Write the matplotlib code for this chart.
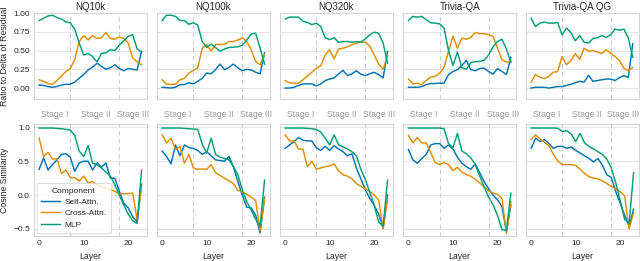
import matplotlib
matplotlib.use("Agg")
import matplotlib.pyplot as plt
import numpy as np

titles = ["NQ10k", "NQ100k", "NQ320k", "Trivia-QA", "Trivia-QA QG"]
layers = list(range(24))
series_names = ["Self-Attn.", "Cross-Attn.", "MLP"]
stage_labels = ["Stage I", "Stage II", "Stage III"]
stage_pos = [3.5, 12.7, 21.2]
stage_bounds = [7, 18]

# Ratio to Delta of Residual (top row)
ratio_self = [
    [0.04, 0.035, 0.02, 0.01, 0.02, 0.04, 0.05, 0.05, 0.08, 0.13, 0.18, 0.24, 0.28, 0.33, 0.29, 0.25, 0.27, 0.31, 0.26, 0.23, 0.26, 0.25, 0.24, 0.49],
    [0.01, 0.005, 0.0, 0.01, 0.045, 0.045, 0.07, 0.055, 0.09, 0.13, 0.20, 0.19, 0.245, 0.32, 0.245, 0.275, 0.32, 0.27, 0.23, 0.25, 0.24, 0.21, 0.19, 0.47],
    [0.0, 0.0, 0.01, 0.035, 0.055, 0.055, 0.055, 0.03, 0.055, 0.10, 0.12, 0.135, 0.19, 0.235, 0.165, 0.19, 0.23, 0.185, 0.165, 0.19, 0.21, 0.18, 0.135, 0.49],
    [0.01, 0.01, 0.01, 0.02, 0.045, 0.06, 0.06, 0.065, 0.065, 0.18, 0.22, 0.245, 0.30, 0.37, 0.245, 0.23, 0.26, 0.265, 0.22, 0.185, 0.26, 0.22, 0.18, 0.41],
    [0.0, 0.01, 0.01, 0.01, 0.0, 0.01, 0.02, 0.02, 0.035, 0.05, 0.07, 0.09, 0.08, 0.17, 0.09, 0.10, 0.11, 0.12, 0.12, 0.10, 0.14, 0.165, 0.14, 0.59],
]
ratio_cross = [
    [0.11, 0.09, 0.06, 0.05, 0.10, 0.16, 0.22, 0.26, 0.38, 0.62, 0.70, 0.64, 0.70, 0.66, 0.67, 0.74, 0.66, 0.65, 0.68, 0.66, 0.60, 0.40, 0.35, 0.31],
    [0.11, 0.05, 0.05, 0.05, 0.11, 0.13, 0.20, 0.235, 0.27, 0.53, 0.58, 0.49, 0.58, 0.58, 0.58, 0.62, 0.62, 0.64, 0.67, 0.62, 0.51, 0.355, 0.31, 0.45],
    [0.10, 0.07, 0.065, 0.065, 0.11, 0.16, 0.21, 0.26, 0.30, 0.44, 0.51, 0.39, 0.52, 0.53, 0.55, 0.58, 0.60, 0.61, 0.61, 0.56, 0.44, 0.32, 0.25, 0.44],
    [0.12, 0.055, 0.065, 0.045, 0.10, 0.145, 0.155, 0.20, 0.275, 0.49, 0.69, 0.53, 0.665, 0.65, 0.675, 0.74, 0.725, 0.725, 0.71, 0.69, 0.53, 0.38, 0.345, 0.355],
    [0.08, 0.18, 0.145, 0.125, 0.155, 0.21, 0.22, 0.42, 0.31, 0.365, 0.46, 0.38, 0.53, 0.49, 0.50, 0.48, 0.46, 0.51, 0.465, 0.42, 0.365, 0.265, 0.23, 0.275],
]
ratio_mlp = [
    [0.90, 0.93, 0.96, 0.97, 0.94, 0.92, 0.88, 0.87, 0.78, 0.60, 0.44, 0.46, 0.42, 0.35, 0.46, 0.47, 0.51, 0.50, 0.57, 0.63, 0.69, 0.71, 0.52, 0.48],
    [0.90, 0.97, 0.97, 0.955, 0.90, 0.90, 0.85, 0.87, 0.84, 0.62, 0.54, 0.585, 0.54, 0.49, 0.52, 0.54, 0.545, 0.55, 0.57, 0.64, 0.72, 0.73, 0.53, 0.32],
    [0.92, 0.945, 0.945, 0.945, 0.89, 0.875, 0.845, 0.865, 0.82, 0.67, 0.645, 0.67, 0.61, 0.62, 0.62, 0.61, 0.62, 0.61, 0.655, 0.71, 0.745, 0.73, 0.60, 0.33],
    [0.90, 0.955, 0.945, 0.955, 0.91, 0.87, 0.865, 0.855, 0.80, 0.50, 0.30, 0.48, 0.27, 0.25, 0.34, 0.35, 0.355, 0.37, 0.44, 0.55, 0.62, 0.65, 0.52, 0.34],
    [0.93, 0.82, 0.865, 0.88, 0.865, 0.865, 0.875, 0.71, 0.80, 0.74, 0.63, 0.70, 0.61, 0.60, 0.66, 0.67, 0.70, 0.675, 0.71, 0.785, 0.77, 0.785, 0.665, 0.41],
]

# Cosine Similarity (bottom row)
cos_self = [
    [0.38, 0.55, 0.37, 0.45, 0.52, 0.60, 0.61, 0.56, 0.35, 0.475, 0.50, 0.50, 0.37, 0.475, 0.41, 0.475, 0.25, 0.25, 0.055, -0.12, -0.19, -0.32, -0.40, 0.16],
    [0.65, 0.57, 0.46, 0.74, 0.58, 0.74, 0.70, 0.69, 0.66, 0.60, 0.64, 0.58, 0.52, 0.51, 0.50, 0.57, 0.42, 0.20, 0.0, -0.18, -0.19, -0.30, -0.56, -0.03],
    [0.69, 0.74, 0.79, 0.85, 0.81, 0.80, 0.80, 0.70, 0.66, 0.72, 0.66, 0.73, 0.68, 0.64, 0.58, 0.61, 0.40, 0.24, 0.08, -0.05, -0.15, -0.28, -0.49, 0.0],
    [0.67, 0.52, 0.47, 0.54, 0.60, 0.74, 0.76, 0.76, 0.69, 0.74, 0.68, 0.56, 0.47, 0.42, 0.38, 0.46, 0.33, 0.20, 0.09, 0.0, -0.07, -0.17, -0.54, -0.15],
    [0.69, 0.84, 0.79, 0.82, 0.76, 0.69, 0.72, 0.72, 0.69, 0.71, 0.66, 0.62, 0.58, 0.54, 0.49, 0.54, 0.44, 0.30, 0.26, 0.05, -0.12, -0.30, -0.46, -0.21],
]
cos_cross = [
    [0.84, 0.57, 0.63, 0.53, 0.54, 0.32, 0.37, 0.26, 0.255, 0.21, 0.28, 0.18, 0.20, 0.15, 0.13, 0.10, 0.08, 0.055, 0.02, 0.02, 0.02, 0.03, -0.36, 0.12],
    [0.89, 0.77, 0.84, 0.67, 0.72, 0.47, 0.60, 0.40, 0.38, 0.385, 0.38, 0.45, 0.33, 0.29, 0.25, 0.21, 0.17, 0.07, 0.05, 0.01, -0.03, -0.08, -0.53, -0.05],
    [0.89, 0.80, 0.80, 0.68, 0.68, 0.42, 0.50, 0.38, 0.40, 0.42, 0.43, 0.46, 0.36, 0.30, 0.28, 0.24, 0.17, 0.13, 0.09, 0.055, 0.0, -0.07, -0.50, -0.05],
    [0.88, 0.77, 0.85, 0.77, 0.77, 0.63, 0.48, 0.45, 0.48, 0.45, 0.36, 0.41, 0.34, 0.30, 0.28, 0.23, 0.18, 0.12, 0.06, 0.03, 0.01, -0.05, -0.57, -0.10],
    [0.82, 0.89, 0.83, 0.78, 0.73, 0.60, 0.50, 0.45, 0.45, 0.45, 0.44, 0.38, 0.32, 0.27, 0.25, 0.24, 0.21, 0.17, 0.13, 0.09, 0.05, -0.01, -0.50, -0.26],
]
cos_mlp = [
    [0.99, 0.99, 0.99, 0.99, 0.985, 0.98, 0.97, 0.96, 0.88, 0.65, 0.57, 0.73, 0.47, 0.45, 0.40, 0.34, 0.28, 0.15, 0.0, -0.15, -0.28, -0.38, -0.42, 0.37],
    [0.99, 0.99, 0.99, 0.99, 0.99, 0.985, 0.98, 0.975, 0.97, 0.75, 0.62, 0.84, 0.60, 0.56, 0.54, 0.52, 0.42, 0.30, 0.08, -0.10, -0.22, -0.36, -0.45, 0.22],
    [0.99, 0.99, 0.99, 0.99, 0.99, 0.985, 0.98, 0.97, 0.93, 0.84, 0.74, 0.89, 0.74, 0.71, 0.68, 0.64, 0.58, 0.38, 0.23, 0.04, -0.15, -0.40, -0.46, 0.22],
    [0.99, 0.99, 0.99, 0.99, 0.99, 0.99, 0.99, 0.99, 0.98, 0.76, 0.70, 0.91, 0.65, 0.61, 0.55, 0.45, 0.28, 0.12, -0.03, -0.14, -0.30, -0.51, -0.52, 0.03],
    [0.99, 0.99, 0.99, 0.99, 0.99, 0.99, 0.985, 0.94, 0.95, 0.90, 0.79, 0.91, 0.77, 0.72, 0.68, 0.64, 0.60, 0.53, 0.40, 0.18, -0.08, -0.36, -0.42, 0.33],
]

colors = ["#0173b2", "#de8f05", "#029e73"]

plt.rcParams['font.family'] = ['Liberation Sans', 'DejaVu Sans']
W, H = 640, 261
fig = plt.figure(figsize=(W / 100, H / 100), dpi=100)

lefts = [34, 157, 280, 403.3, 526]
aw = 112.7
top_y = (13, 99.3)
bot_y = (124.3, 235.7)
edge = '#d5d5d5'
grid = '#e6e6e6'
tickc = '#262626'
fs = 6.0
lfs = 6.3

def mkax(x0, y0, y1):
    ax = fig.add_axes([x0 / W, 1 - y1 / H, aw / W, (y1 - y0) / H])
    ax.set_facecolor('white')
    for s in ax.spines.values():
        s.set_color(edge)
        s.set_linewidth(0.8)
    ax.grid(axis='y', color=grid, lw=0.8)
    ax.set_axisbelow(True)
    ax.tick_params(length=0, labelsize=fs, colors=tickc, pad=3)
    ax.set_xlim(-1.15, 24.15)
    for b in stage_bounds:
        ax.axvline(b, color='#cfcfcf', ls=(0, (4, 3)), lw=0.8, zorder=1)
    return ax

for i in range(5):
    ax = mkax(lefts[i], *top_y)
    for vals, c in zip([ratio_self[i], ratio_cross[i], ratio_mlp[i]], colors):
        ax.plot(layers, vals, color=c, lw=1.05)
    ax.set_ylim(-0.15, 1.0)
    ax.set_yticks([0.0, 0.25, 0.5, 0.75, 1.0])
    ax.set_xticks(stage_pos)
    ax.set_xticklabels(stage_labels, color='#9a9a9a', fontsize=6.2)
    ax.tick_params(axis='x', pad=7.5)
    if i == 4:
        ax.get_xticklabels()[2].set_horizontalalignment('right')
        ax.set_xticks(stage_pos[:2] + [24.35])
        ax.set_xticklabels(stage_labels, color='#9a9a9a', fontsize=6.2)
        ax.get_xticklabels()[2].set_horizontalalignment('right')
    ax.set_title(titles[i], fontsize=7.0, color=tickc, pad=2.5)
    if i == 0:
        ax.set_yticklabels(["0.00", "0.25", "0.50", "0.75", "1.00"])
        ax.set_ylabel("Ratio to Delta of Residual", fontsize=lfs, color=tickc, labelpad=3)
    else:
        ax.set_yticklabels([])

    bx = mkax(lefts[i], *bot_y)
    for vals, c, n in zip([cos_self[i], cos_cross[i], cos_mlp[i]], colors, series_names):
        bx.plot(layers, vals, color=c, lw=1.05, label=n)
    bx.set_ylim(-0.6, 1.045)
    bx.set_yticks([-0.5, 0.0, 0.5, 1.0])
    bx.set_xticks([0, 10, 20])
    bx.set_xlabel("Layer", fontsize=lfs, color=tickc, labelpad=3.5)
    if i == 0:
        bx.set_yticklabels(["\u22120.5", "0.0", "0.5", "1.0"])
        bx.set_ylabel("Cosine Similarity", fontsize=lfs, color=tickc, labelpad=3)
        leg = bx.legend(title="Component", loc='lower left', fontsize=fs,
                        title_fontsize=fs, frameon=True, borderaxespad=0.3,
                        handlelength=2.3, handletextpad=0.5, labelspacing=0.42,
                        borderpad=0.55)
        leg.get_frame().set_edgecolor(edge)
        leg.get_frame().set_linewidth(0.8)
        for t in leg.get_texts():
            t.set_color(tickc)
        leg.get_title().set_color(tickc)
    else:
        bx.set_yticklabels([])

fig.savefig("out.png", dpi=100)
